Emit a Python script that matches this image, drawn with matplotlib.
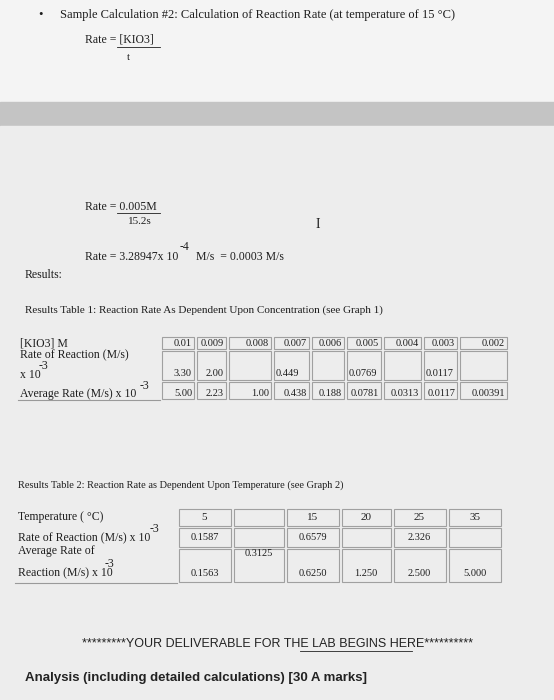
import matplotlib.pyplot as plt
from matplotlib.patches import Rectangle

# Table 1 data
conc = ['0.01', '0.009', '0.008', '0.007', '0.006', '0.005', '0.004', '0.003', '0.002']
rate1 = ['3.30', '2.00', '', '0.449', '', '0.0769', '', '0.0117', '']
avg1 = ['5.00', '2.23', '1.00', '0.438', '0.188', '0.0781', '0.0313', '0.0117', '0.00391']

# Table 2 data
temps = ['5', '', '15', '20', '25', '35']
rate2 = ['0.1587', '', '0.6579', '', '2.326', '']
avg2 = ['0.1563', '0.3125', '0.6250', '1.250', '2.500', '5.000']

fig = plt.figure(figsize=(5.54, 7.0), dpi=100)
ax = fig.add_axes([0, 0, 1, 1])
ax.set_xlim(0, 554)
ax.set_ylim(700, 0)
ax.axis('off')

ax.add_patch(Rectangle((0, 0), 554, 102, color='#f4f4f4', zorder=0))
ax.add_patch(Rectangle((0, 102), 554, 24, color='#c4c4c4', zorder=0))
ax.add_patch(Rectangle((0, 126), 554, 574, color='#ededed', zorder=0))

serif = {'family': 'Liberation Serif', 'color': '#1e1e1e'}
ax.text(38, 15, '•', fontsize=9, va='center', **serif)
ax.text(60, 15, 'Sample Calculation #2: Calculation of Reaction Rate (at temperature of 15 °C)',
        fontsize=9, va='center', **serif)
ax.text(85, 40, 'Rate = [KIO3]', fontsize=8.5, va='center', **serif)
ax.plot([117, 160], [47, 47], color='#1e1e1e', lw=0.6)
ax.text(127, 57, 't', fontsize=7.5, va='center', **serif)

ax.text(85, 207, 'Rate = 0.005M', fontsize=8.5, va='center', **serif)
ax.plot([117, 160], [213, 213], color='#1e1e1e', lw=0.6)
ax.text(128, 222, '15.2s', fontsize=8, va='center', **serif)
ax.text(316, 225, 'I', fontsize=10, va='center', **serif)
ax.text(85, 257, 'Rate = 3.28947x 10', fontsize=8.5, va='center', **serif)
ax.text(180, 247, '-4', fontsize=8.5, va='center', **serif)
ax.text(196, 257, 'M/s  = 0.0003 M/s', fontsize=8.5, va='center', **serif)
ax.text(25, 275, 'Results:', fontsize=8.5, va='center', **serif)
ax.text(25, 310, 'Results Table 1: Reaction Rate As Dependent Upon Concentration (see Graph 1)',
        fontsize=8, va='center', **serif)

def cell(x0, x1, y0, y1):
    ax.add_patch(Rectangle((x0, y0), x1 - x0, y1 - y0, fill=False, ec='#a0a0a0', lw=0.8))

# Table 1
edges1 = [160, 195, 227, 272, 310, 345, 382, 422, 458, 508]
rows1 = [336, 350, 381, 400]
ax.plot([18, 160], [400, 400], color='#9a9a9a', lw=0.8)
for i in range(len(conc)):
    for r in range(3):
        cell(edges1[i] + 2, edges1[i + 1] - 1, rows1[r] + 1, rows1[r + 1] - 1)
    ax.text(edges1[i + 1] - 3, 344, conc[i], fontsize=7.5, ha='right', va='center', **serif)
    ax.text(edges1[i + 1] - 3 if i < 2 else edges1[i] + 4, 373, rate1[i], fontsize=7.5,
            ha='right' if i < 2 else 'left', va='center', **serif)
    ax.text(edges1[i + 1] - 3, 394, avg1[i], fontsize=7.5, ha='right', va='center', **serif)
ax.text(20, 343, '[KIO3] M', fontsize=8.5, va='center', **serif)
ax.text(20, 355, 'Rate of Reaction (M/s)', fontsize=8.5, va='center', **serif)
ax.text(20, 375, 'x 10', fontsize=8.5, va='center', **serif)
ax.text(39, 366, '-3', fontsize=8.5, va='center', **serif)
ax.text(20, 394, 'Average Rate (M/s) x 10', fontsize=8.5, va='center', **serif)
ax.text(140, 386, '-3', fontsize=8.5, va='center', **serif)

ax.text(18, 485, 'Results Table 2: Reaction Rate as Dependent Upon Temperature (see Graph 2)',
        fontsize=7.5, va='center', **serif)

# Table 2
edges2 = [177, 232, 285, 340, 392, 447, 502]
rows2 = [508, 527, 548, 583]
ax.plot([15, 177], [583, 583], color='#9a9a9a', lw=0.8)
for i in range(len(temps)):
    for r in range(3):
        cell(edges2[i] + 2, edges2[i + 1] - 1, rows2[r] + 1, rows2[r + 1] - 1)
    cx = (edges2[i] + edges2[i + 1]) / 2
    ax.text(cx, 518, temps[i], fontsize=8, ha='center', va='center', **serif)
    ax.text(cx, 537, rate2[i], fontsize=7.5, ha='center', va='center', **serif)
    ax.text(cx, 554 if i == 1 else 574, avg2[i], fontsize=7.5, ha='center', va='center', **serif)
ax.text(18, 517, 'Temperature ( °C)', fontsize=8.5, va='center', **serif)
ax.text(18, 538, 'Rate of Reaction (M/s) x 10', fontsize=8.5, va='center', **serif)
ax.text(150, 529, '-3', fontsize=8.5, va='center', **serif)
ax.text(18, 551, 'Average Rate of', fontsize=8.5, va='center', **serif)
ax.text(18, 573, 'Reaction (M/s) x 10', fontsize=8.5, va='center', **serif)
ax.text(105, 564, '-3', fontsize=8.5, va='center', **serif)

ax.text(278, 644, '*********YOUR DELIVERABLE FOR THE LAB BEGINS HERE**********', fontsize=9,
        ha='center', va='center', family='Liberation Sans', color='#222222')
ax.plot([300, 412], [651, 651], color='#222222', lw=0.6)
ax.text(25, 678, 'Analysis (including detailed calculations) [30 A marks]', fontsize=9.5,
        fontweight='bold', va='center', family='Liberation Sans', color='#222222')

fig.savefig('out.png', dpi=100)
